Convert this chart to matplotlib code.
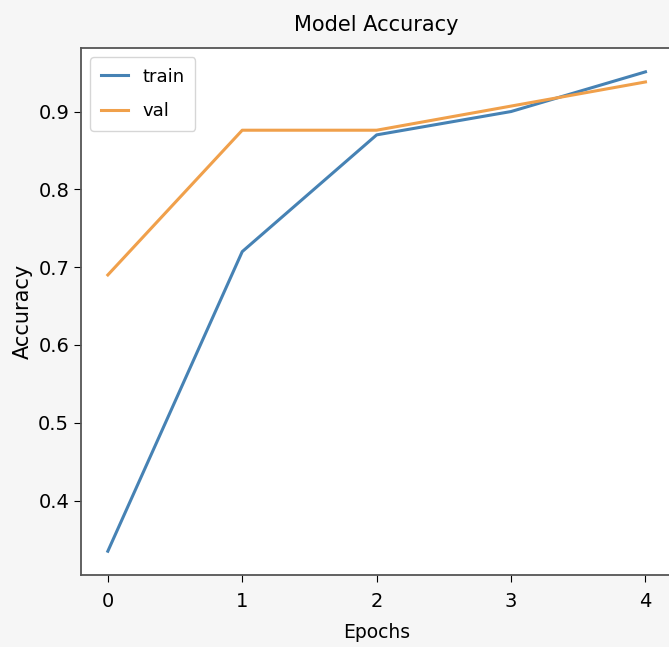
import matplotlib
matplotlib.use("Agg")
import matplotlib.pyplot as plt

epochs = [0, 1, 2, 3, 4]
train_acc = [0.335, 0.72, 0.87, 0.90, 0.951]
val_acc = [0.69, 0.876, 0.876, 0.907, 0.938]

fig = plt.figure(figsize=(6.69, 6.47), dpi=100, facecolor='#f6f6f6')
ax = fig.add_axes([0.121, 0.111, 0.884, 0.815])
ax.plot(epochs, train_acc, color='#4682b4', lw=2.2, label='train')
ax.plot(epochs, val_acc, color='#f0a04b', lw=2.2, label='val')
ax.set_title('Model Accuracy', fontsize=15, pad=12)
ax.set_xlabel('Epochs', fontsize=13.5, labelpad=9)
ax.set_ylabel('Accuracy', fontsize=15)
ax.set_xticks(epochs)
ax.tick_params(labelsize=14, length=5)
ax.tick_params(axis='x', pad=7)
for s in ax.spines.values():
    s.set_color('#555555')
    s.set_linewidth(1.3)
ax.legend(loc='upper left', fontsize=13, handlelength=1.5, labelspacing=0.9,
          borderpad=0.6)
fig.savefig('out.png', dpi=100, facecolor=fig.get_facecolor())
